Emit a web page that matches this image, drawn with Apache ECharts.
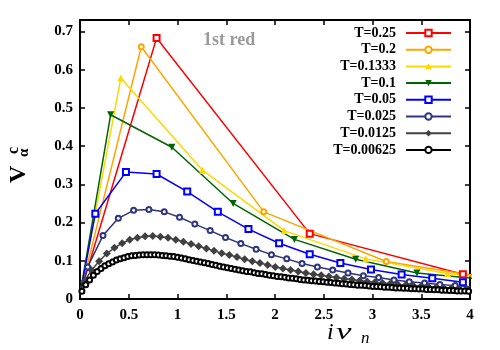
<!DOCTYPE html>
<html>
<head>
<meta charset="utf-8">
<script src="https://cdn.jsdelivr.net/npm/echarts@6/dist/echarts.min.js"></script>
<style>
  html, body { margin: 0; padding: 0; background: #fff; }
  #chart { width: 500px; height: 350px; }
</style>
</head>
<body>
<div id="chart"></div>
<script>
// temperatures, one curve each; points sit on the fermionic grid (2n+1)*pi*T
var temps = [0.25, 0.2, 0.1333, 0.1, 0.05, 0.025, 0.0125, 0.00625];
var names = ["T=0.25", "T=0.2", "T=0.1333", "T=0.1", "T=0.05", "T=0.025", "T=0.0125", "T=0.00625"];
var zeroFreqValue = 0.012;

var vT025 = [0.683, 0.171, 0.065, 0.040];
var vT02 = [0.660, 0.228, 0.098, 0.047];
var vT01333 = [0.578, 0.337, 0.179, 0.105, 0.067, 0.044];
var vT01 = [0.482, 0.397, 0.250, 0.156, 0.104, 0.068, 0.053];
var vT005 = [0.223, 0.332, 0.327, 0.281, 0.228, 0.183, 0.146, 0.117, 0.094, 0.077,
  0.064, 0.054, 0.044];
var vT0025 = [0.084, 0.166, 0.211, 0.232, 0.234, 0.228, 0.214, 0.196, 0.179, 0.161,
  0.145, 0.130, 0.116, 0.105, 0.093, 0.084, 0.076, 0.068, 0.061, 0.056,
  0.050, 0.045, 0.042, 0.038, 0.035, 0.032];
var vT00125 = [0.045, 0.075, 0.099, 0.119, 0.134, 0.146, 0.155, 0.160, 0.164, 0.165,
  0.163, 0.160, 0.155, 0.150, 0.144, 0.138, 0.132, 0.126, 0.120, 0.115,
  0.110, 0.104, 0.099, 0.094, 0.089, 0.084, 0.080, 0.076, 0.072, 0.068,
  0.065, 0.062, 0.059, 0.056, 0.053, 0.051, 0.048, 0.046, 0.044, 0.042,
  0.040, 0.038, 0.036, 0.035, 0.033, 0.032, 0.030, 0.029, 0.028, 0.027, 0.026];
var vT000625 = [0.020, 0.037, 0.050, 0.062, 0.072, 0.080, 0.087, 0.092, 0.097, 0.102,
  0.105, 0.108, 0.111, 0.113, 0.114, 0.115, 0.116, 0.116, 0.116, 0.116,
  0.115, 0.114, 0.113, 0.112, 0.111, 0.109, 0.107, 0.105, 0.103, 0.101,
  0.099, 0.097, 0.095, 0.093, 0.090, 0.088, 0.086, 0.084, 0.082, 0.080,
  0.078, 0.076, 0.074, 0.072, 0.071, 0.069, 0.067, 0.066, 0.064, 0.062,
  0.061, 0.059, 0.058, 0.057, 0.055, 0.054, 0.053, 0.051, 0.050, 0.049,
  0.048, 0.047, 0.046, 0.045, 0.044, 0.043, 0.042, 0.041, 0.040, 0.039,
  0.038, 0.037, 0.036, 0.036, 0.035, 0.034, 0.033, 0.033, 0.032, 0.031,
  0.031, 0.030, 0.029, 0.029, 0.028, 0.028, 0.027, 0.027, 0.026, 0.026,
  0.025, 0.025, 0.024, 0.024, 0.023, 0.023, 0.022, 0.022, 0.021, 0.021,
  0.021, 0.020];
var values = [vT025, vT02, vT01333, vT01, vT005, vT0025, vT00125, vT000625];

var looks = [
  { color: "#ff0000", symbol: "emptyRect", size: 6 },
  { color: "#ffa500", symbol: "emptyCircle", size: 5 },
  { color: "#ffd700", symbol: "triangle", size: 7 },
  { color: "#006400", symbol: "triangle", size: 7, rotate: 180 },
  { color: "#0000ff", symbol: "emptyRect", size: 6 },
  { color: "#2f3580", symbol: "emptyCircle", size: 5 },
  { color: "#404040", symbol: "diamond", size: 8 },
  { color: "#000000", symbol: "emptyCircle", size: 5 }
];

var serif = "Liberation Serif";

function matsubara(T, vals) {
  var pts = [{ value: [0, zeroFreqValue], symbol: "none" }];
  vals.forEach(function (v, n) {
    pts.push([(2 * n + 1) * Math.PI * T, v]);
  });
  return pts;
}

var series = temps.map(function (T, i) {
  var look = looks[i];
  return {
    name: names[i],
    type: "line",
    data: matsubara(T, values[i]),
    symbol: look.symbol,
    symbolSize: look.size,
    symbolRotate: look.rotate || 0,
    showAllSymbol: true,
    itemStyle: { color: look.color, borderWidth: i === 7 ? 2 : 1.2 },
    lineStyle: { color: look.color, width: 1.5 },
    emphasis: { disabled: true },
    animation: false
  };
});

function xAxisCfg(pos, labels) {
  return {
    type: "value", position: pos, min: 0, max: 4, interval: 0.5,
    axisLine: { onZero: false, lineStyle: { color: "#000", width: 2 } },
    axisTick: { inside: true, length: 5, lineStyle: { color: "#000", width: 1.5 } },
    axisLabel: { show: labels, color: "#000", fontFamily: serif, fontWeight: "bold", fontSize: 15, margin: 9 },
    splitLine: { show: false }
  };
}

function yAxisCfg(pos, labels) {
  return {
    type: "value", position: pos, min: 0, max: 0.73, interval: 0.1,
    axisLine: { onZero: false, lineStyle: { color: "#000", width: 2 } },
    axisTick: { inside: true, length: 5, lineStyle: { color: "#000", width: 1.5 } },
    axisLabel: { show: labels, showMaxLabel: false, color: "#000", fontFamily: serif, fontWeight: "bold", fontSize: 15, margin: 7 },
    splitLine: { show: false }
  };
}

var chart = echarts.init(document.getElementById("chart"), null, { renderer: "canvas" });
chart.setOption({
  animation: false,
  backgroundColor: "#fff",
  grid: { left: 80, right: 30, top: 20, bottom: 51 },
  xAxis: [xAxisCfg("bottom", true), xAxisCfg("top", false)],
  yAxis: [yAxisCfg("left", true), yAxisCfg("right", false)],
  legend: {
    orient: "vertical", right: 48, top: 26, align: "right", padding: 0,
    itemWidth: 45, itemHeight: 8, itemGap: 2.7,
    textStyle: { fontFamily: serif, fontWeight: "bold", fontSize: 14, lineHeight: 14, color: "#000", padding: [0, 5, 0, 0] },
    data: names
  },
  graphic: [
    {
      type: "text", left: 203, top: 31,
      style: { text: "1st red", font: "bold 18px 'Liberation Serif'", fill: "#9a9a9a" }
    },
    {
      type: "group", x: 19, y: 183, rotation: Math.PI / 2,
      children: [
        { type: "text", x: 0, y: 0, style: { text: "V", font: "bold 24px 'Liberation Serif'", fill: "#000", textVerticalAlign: "middle" } },
        { type: "text", x: 29, y: -5, style: { text: "c", font: "bold 16px 'Liberation Serif'", fill: "#000", textVerticalAlign: "middle" } },
        { type: "text", x: 26, y: 5, style: { text: "α", font: "bold 15px 'Liberation Serif'", fill: "#000", textVerticalAlign: "middle" } }
      ]
    },
    {
      type: "group", x: 327, y: 333,
      children: [
        { type: "text", x: 0, y: 0, style: { text: "i", font: "italic 24px 'Liberation Serif'", fill: "#000", textVerticalAlign: "middle" } },
        { type: "text", x: 9, y: 0, scaleX: 1.45, style: { text: "ν", font: "italic 24px 'Liberation Serif'", fill: "#000", textVerticalAlign: "middle" } },
        { type: "text", x: 34, y: 6, style: { text: "n", font: "italic 17px 'Liberation Serif'", fill: "#000", textVerticalAlign: "middle" } }
      ]
    }
  ],
  series: series
});
</script>
</body>
</html>
